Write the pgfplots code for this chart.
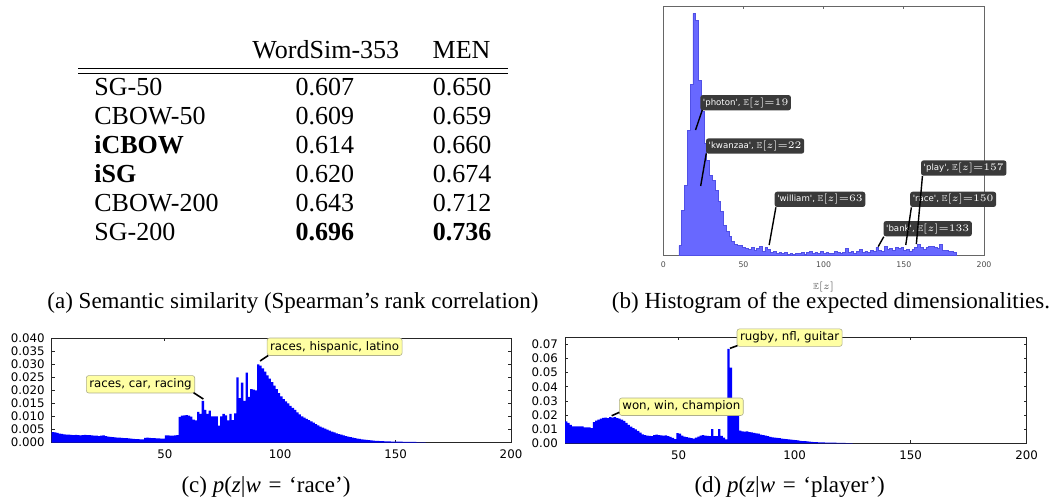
\documentclass[border=0pt]{standalone}
\usepackage{amssymb}
\usepackage{fontspec}
\setmainfont{Liberation Serif}
\newfontfamily\mpl{DejaVu Sans}[Ligatures=TeXOff]
\usepackage{pgfplots}
\pgfplotsset{compat=1.18}

\definecolor{histb}{RGB}{104,104,255}
\definecolor{histedge}{RGB}{80,80,230}
\definecolor{annbg}{RGB}{58,58,58}
\definecolor{yell}{RGB}{255,255,163}
\definecolor{yedge}{RGB}{175,175,140}

\pgfplotsset{
  mplstyle/.style={
    scale only axis, clip=false,
    axis line style={black!85, line width=0.5pt},
    tick align=inside, xtick pos=both, ytick pos=both,
    major tick length=1.5pt,
    tick style={black!85, line width=0.4pt},
    tick label style={font=\mpl\fontsize{5.9}{6}\selectfont},
    /pgf/number format/assume math mode=true,
    scaled y ticks=false,
  },
}
\tikzset{
  dbox/.style={fill=annbg, text=white, rounded corners=1.2pt, inner sep=1.3pt,
    font=\mpl\fontsize{4.3}{5}\selectfont, anchor=south west},
  ybox/.style={fill=yell, draw=yedge, line width=0.3pt, rounded corners=1.2pt,
    inner sep=1.5pt, font=\mpl\fontsize{5.9}{6.5}\selectfont},
}

\begin{document}
\begin{tikzpicture}
\useasboundingbox (0,0) rectangle (526pt,-249.5pt);

% (a) table
\begin{scope}[every node/.style={font=\fontsize{13}{15}\selectfont, inner sep=0pt}]
  \node[anchor=base] at (162.9pt,-29.15pt) {WordSim-353};
  \node[anchor=base] at (230.8pt,-29.15pt) {MEN};
  \draw[line width=0.5pt] (39.2pt,-34.15pt) -- (254.2pt,-34.15pt);
  \draw[line width=0.5pt] (39.2pt,-36.6pt) -- (254.2pt,-36.6pt);
  \node[anchor=base west] at (47pt,-47.85pt) {SG-50};
  \node[anchor=base west] at (47pt,-62.35pt) {CBOW-50};
  \node[anchor=base west] at (47pt,-76.85pt) {\bfseries iCBOW};
  \node[anchor=base west] at (47pt,-91.35pt) {\bfseries iSG};
  \node[anchor=base west] at (47pt,-105.85pt) {CBOW-200};
  \node[anchor=base west] at (47pt,-120.35pt) {SG-200};
  \node[anchor=base] at (162.4pt,-47.85pt) {0.607};
  \node[anchor=base] at (162.4pt,-62.35pt) {0.609};
  \node[anchor=base] at (162.4pt,-76.85pt) {0.614};
  \node[anchor=base] at (162.4pt,-91.35pt) {0.620};
  \node[anchor=base] at (162.4pt,-105.85pt) {0.643};
  \node[anchor=base] at (162.4pt,-120.35pt) {\bfseries 0.696};
  \node[anchor=base] at (231pt,-47.85pt) {0.650};
  \node[anchor=base] at (231pt,-62.35pt) {0.659};
  \node[anchor=base] at (231pt,-76.85pt) {0.660};
  \node[anchor=base] at (231pt,-91.35pt) {0.674};
  \node[anchor=base] at (231pt,-105.85pt) {0.712};
  \node[anchor=base] at (231pt,-120.35pt) {\bfseries 0.736};
\end{scope}

% (b) histogram of expected dimensionalities
\begin{axis}[mplstyle, at={(331.65pt,-127.5pt)}, anchor=south west,
  width=160.35pt, height=124.15pt,
  xmin=0, xmax=200, ymin=0, ymax=745,
  xtick={0,50,100,150,200}, ytick=\empty,
  axis line style={black!60}, tick style={black!60}, major tick length=1pt,
  tick label style={font=\mpl\fontsize{3.9}{4}\selectfont, text=black!70},
  xlabel={$\mathbb{E}[z]$},
  xlabel style={font=\fontsize{4.4}{5}\selectfont, text=black!65},
  ]
  \addplot[const plot, fill=histb, draw=histedge, line width=0.3pt] coordinates {
    (9.76,28) (11.49,135) (13.22,210) (14.95,375) (16.68,512) (18.41,725) (20.14,703) (21.87,525) (23.60,430) (25.33,335)
    (27.06,285) (28.79,240) (30.52,225) (32.25,195) (33.98,160) (35.71,130) (37.44,90) (39.17,72) (40.90,55) (42.63,40)
    (44.36,32) (46.09,30) (47.82,28) (49.55,22) (51.28,20) (53.01,18) (54.74,22) (56.47,15) (58.20,20) (59.93,25)
    (61.66,12) (63.39,22) (65.12,16) (66.85,8) (68.58,10) (70.31,5) (72.04,7) (73.77,4) (75.50,8) (77.23,3)
    (78.96,5) (80.69,2) (82.42,6) (84.15,4) (85.88,7) (87.61,3) (89.34,8) (91.07,12) (92.80,4) (94.53,9)
    (96.26,6) (97.99,10) (99.72,5) (101.45,9) (103.18,6) (104.91,4) (106.64,10) (108.37,7) (110.10,5) (111.83,9)
    (113.56,20) (115.29,8) (117.02,12) (118.75,6) (120.48,10) (122.21,17) (123.94,8) (125.67,12) (127.40,9) (129.13,14)
    (130.86,10) (132.59,23) (134.32,14) (136.05,12) (137.78,27) (139.51,18) (141.24,20) (142.97,14) (144.70,22) (146.43,20)
    (148.16,24) (149.89,15) (151.62,18) (153.35,12) (155.08,16) (156.81,22) (158.54,31) (160.27,24) (162.00,18) (163.73,22)
    (165.46,27) (167.19,25) (168.92,24) (170.65,20) (172.38,31) (174.11,14) (175.84,15) (177.57,12) (179.30,10) (181.03,8)
    (182.76,0)
  } \closedcycle;
  \node[dbox] at (axis cs:22.85,433) {'photon', $\mathbb{E}[z]{=}19$};
  \node[dbox] at (axis cs:26.4,303) {'kwanzaa', $\mathbb{E}[z]{=}22$};
  \node[dbox] at (axis cs:69.2,143) {'william', $\mathbb{E}[z]{=}63$};
  \node[dbox] at (axis cs:137.1,55) {'bank', $\mathbb{E}[z]{=}133$};
  \node[dbox] at (axis cs:153.7,143) {'race', $\mathbb{E}[z]{=}150$};
  \node[dbox] at (axis cs:160.5,237) {'play', $\mathbb{E}[z]{=}157$};
  \draw[line width=0.7pt] (axis cs:24.3,435) -- (axis cs:20.1,375);
  \draw[line width=0.7pt] (axis cs:26.8,305) -- (axis cs:23.3,207);
  \draw[line width=0.7pt] (axis cs:70.2,143) -- (axis cs:66.0,30);
  \draw[line width=0.7pt] (axis cs:137.5,55) -- (axis cs:134.0,25);
  \draw[line width=0.7pt] (axis cs:154.7,143) -- (axis cs:151.2,30);
  \draw[line width=0.7pt] (axis cs:161.6,237) -- (axis cs:157.8,33);
\end{axis}

% (c) p(z | w = race)
\begin{axis}[mplstyle, at={(25.85pt,-221.25pt)}, anchor=south west,
  width=229.65pt, height=52.1pt,
  xmin=1, xmax=200, ymin=0, ymax=0.04,
  xtick={50,100,150,200},
  ytick={0,0.005,0.01,0.015,0.02,0.025,0.03,0.035,0.04},
  yticklabel style={/pgf/number format/.cd, fixed, fixed zerofill, precision=3},
  ]
  \addplot[const plot, fill=blue, draw=none] coordinates {
    (1,0.0040) (2,0.0039) (3,0.0037) (4,0.0034) (5,0.0033) (6,0.0031) (7,0.0030) (8,0.0030) (9,0.0029) (10,0.0028)
    (11,0.0029) (12,0.0028) (13,0.0027) (14,0.0028) (15,0.0029) (16,0.0028) (17,0.0028) (18,0.0027) (19,0.0026) (20,0.0026)
    (21,0.0025) (22,0.0026) (23,0.0027) (24,0.0025) (25,0.0023) (26,0.0022) (27,0.0021) (28,0.0020) (29,0.0019) (30,0.0019)
    (31,0.0018) (32,0.0017) (33,0.0017) (34,0.0016) (35,0.0015) (36,0.0014) (37,0.0013) (38,0.0013) (39,0.0012) (40,0.0012)
    (41,0.0018) (42,0.0019) (43,0.0018) (44,0.0017) (45,0.0017) (46,0.0016) (47,0.0016) (48,0.0015) (49,0.0015) (50,0.0027)
    (51,0.0027) (52,0.0026) (53,0.0026) (54,0.0027) (55,0.0028) (56,0.0098) (57,0.0103) (58,0.0104) (59,0.0105) (60,0.0103)
    (61,0.0099) (62,0.0088) (63,0.0085) (64,0.0118) (65,0.0110) (66,0.0160) (67,0.0125) (68,0.0110) (69,0.0122) (70,0.0100)
    (71,0.0100) (72,0.0100) (73,0.0065) (74,0.0100) (75,0.0110) (76,0.0104) (77,0.0085) (78,0.0110) (79,0.0086) (80,0.0112)
    (81,0.0250) (82,0.0170) (83,0.0230) (84,0.0160) (85,0.0268) (86,0.0175) (87,0.0205) (88,0.0203) (89,0.0200) (90,0.0300)
    (91,0.0295) (92,0.0285) (93,0.0272) (94,0.0258) (95,0.0245) (96,0.0232) (97,0.0218) (98,0.0205) (99,0.0190) (100,0.0177)
    (101,0.0167) (102,0.0158) (103,0.0150) (104,0.0141) (105,0.0133) (106,0.0125) (107,0.0116) (108,0.0108) (109,0.0100) (110,0.0096)
    (111,0.0091) (112,0.0086) (113,0.0081) (114,0.0076) (115,0.0071) (116,0.0066) (117,0.0061) (118,0.0057) (119,0.0053) (120,0.0049)
    (121,0.0046) (122,0.0042) (123,0.0039) (124,0.0035) (125,0.0032) (126,0.0030) (127,0.0027) (128,0.0025) (129,0.0023) (130,0.0021)
    (131,0.0019) (132,0.0017) (133,0.0015) (134,0.0014) (135,0.0012) (136,0.0011) (137,0.0010) (138,0.0009) (139,0.0008) (140,0.0007)
    (141,0.0006) (142,0.0006) (143,0.0005) (144,0.0005) (145,0.0004) (146,0.0004) (147,0.0004) (148,0.0003) (149,0.0003) (150,0.0003)
    (151,0.0003) (152,0.0003) (153,0.0002) (154,0.0002) (155,0.0002) (156,0.0002) (157,0.0002) (158,0.0002) (159,0.0001) (160,0.0001)
    (161,0.0001) (162,0.0001) (163,0)
  } \closedcycle;
  \node[ybox, anchor=south east] at (axis cs:63.1,0.0189) {races, car, racing};
  \node[ybox, anchor=south west] at (axis cs:94.2,0.0333) {races, hispanic, latino};
  \draw[line width=0.8pt] (axis cs:62.5,0.0191) -- (axis cs:66.7,0.0167);
  \draw[line width=0.8pt] (axis cs:94.8,0.0334) -- (axis cs:91.3,0.0313);
\end{axis}

% (d) p(z | w = player)
\begin{axis}[mplstyle, at={(282.5pt,-221.65pt)}, anchor=south west,
  width=230.85pt, height=53pt,
  xmin=1, xmax=200, ymin=0, ymax=0.075,
  xtick={50,100,150,200},
  ytick={0,0.01,0.02,0.03,0.04,0.05,0.06,0.07},
  yticklabel style={/pgf/number format/.cd, fixed, fixed zerofill, precision=2},
  ]
  \addplot[const plot, fill=blue, draw=none] coordinates {
    (1,0.0155) (2,0.0145) (3,0.0130) (4,0.0120) (5,0.0119) (6,0.0120) (7,0.0119) (8,0.0120) (9,0.0113) (10,0.0112)
    (11,0.0112) (12,0.0107) (13,0.0150) (14,0.0160) (15,0.0168) (16,0.0175) (17,0.0180) (18,0.0182) (19,0.0178) (20,0.0185)
    (21,0.0182) (22,0.0186) (23,0.0178) (24,0.0175) (25,0.0168) (26,0.0158) (27,0.0145) (28,0.0130) (29,0.0118) (30,0.0108)
    (31,0.0098) (32,0.0088) (33,0.0075) (34,0.0063) (35,0.0058) (36,0.0054) (37,0.0052) (38,0.0050) (39,0.0058) (40,0.0062)
    (41,0.0058) (42,0.0056) (43,0.0054) (44,0.0056) (45,0.0050) (46,0.0045) (47,0.0038) (48,0.0030) (49,0.0072) (50,0.0068)
    (51,0.0055) (52,0.0048) (53,0.0043) (54,0.0040) (55,0.0036) (56,0.0033) (57,0.0040) (58,0.0048) (59,0.0055) (60,0.0058)
    (61,0.0054) (62,0.0052) (63,0.0050) (64,0.0100) (65,0.0050) (66,0.0050) (67,0.0100) (68,0.0052) (69,0.0040) (70,0.0028)
    (71,0.0669) (72,0.0535) (73,0.0238) (74,0.0225) (75,0.0225) (76,0.0090) (77,0.0085) (78,0.0082) (79,0.0085) (80,0.0080)
    (81,0.0078) (82,0.0073) (83,0.0070) (84,0.0068) (85,0.0062) (86,0.0058) (87,0.0054) (88,0.0050) (89,0.0046) (90,0.0042)
    (91,0.0040) (92,0.0038) (93,0.0036) (94,0.0034) (95,0.0032) (96,0.0030) (97,0.0028) (98,0.0026) (99,0.0024) (100,0.0022)
    (101,0.0020) (102,0.0018) (103,0.0016) (104,0.0015) (105,0.0013) (106,0.0012) (107,0.0010) (108,0.0009) (109,0.0008) (110,0.0007)
    (111,0.0006) (112,0.0006) (113,0.0005) (114,0.0005) (115,0.0004) (116,0.0004) (117,0.0004) (118,0.0003) (119,0.0003) (120,0.0003)
    (121,0.0003) (122,0.0002) (123,0.0002) (124,0.0002) (125,0)
  } \closedcycle;
  \node[ybox, anchor=south west] at (axis cs:24.3,0.0195) {won, win, champion};
  \node[ybox, anchor=south west] at (axis cs:75.0,0.0684) {rugby, nfl, guitar};
  \draw[line width=0.8pt] (axis cs:24.4,0.0219) -- (axis cs:21.1,0.0195);
  \draw[line width=0.8pt] (axis cs:75.3,0.0691) -- (axis cs:72.1,0.0672);
\end{axis}

% captions
\begin{scope}[every node/.style={font=\fontsize{11.5}{13}\selectfont, inner sep=0pt, anchor=base}]
  \node at (146.5pt,-154pt) {(a) Semantic similarity (Spearman’s rank correlation)};
  \node at (415.5pt,-154pt) {(b) Histogram of the expected dimensionalities.};
  \node at (133pt,-246.3pt) {(c) \textit{p}(\textit{z}|\textit{w}\,\,=\,\,‘race’)};
  \node at (394.8pt,-246.3pt) {(d) \textit{p}(\textit{z}|\textit{w}\,\,=\,\,‘player’)};
\end{scope}
\end{tikzpicture}
\end{document}
